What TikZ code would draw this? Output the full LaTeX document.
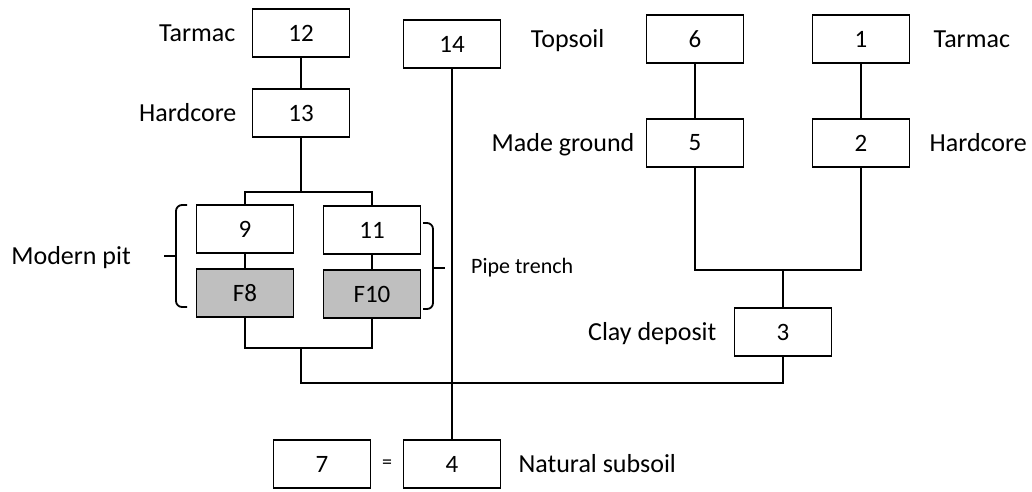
\documentclass[tikz,border=0pt]{standalone}
\usepackage{fontspec}
\setmainfont{Carlito}
\usetikzlibrary{positioning, calc}
\tikzset{
  context box/.style={
    draw=black,
    line width=1.8pt,
    minimum width=97pt,
    minimum height=48pt,
    inner sep=0pt,
    font=\fontsize{25}{29}\selectfont
  },
  cut box/.style={
    context box,
    fill=black!25
  },
  layer label/.style={
    inner sep=0pt,
    text height=17pt,
    text depth=0pt,
    font=\fontsize{26}{30}\selectfont
  },
  link/.style={
    line width=1.8pt,
    draw=black
  },
  group brace/.style={
    line width=1.8pt,
    rounded corners=6pt
  }
}

\begin{document}
\begin{tikzpicture}[x=1pt, y=-1pt]
    % 画布范围 (像素坐标, y 向下)
    \useasboundingbox (0,0) rectangle (1032,491);

    % 左侧路面序列
    \node[context box] (c12) at (301,33) {12};
    \node[context box] (c13) at (301,113) {13};
    \node[layer label, left=16pt of c12] (l12) {Tarmac};
    \node[layer label, left=15pt of c13] (l13) {Hardcore};

    % 现代坑与管沟
    \node[context box] (c9) at (245,229) {9};
    \node[context box] (c11) at (372,230) {11};
    \node[cut box] (f8) at (245,293) {F8};
    \node[cut box] (f10) at (372,294) {F10};

    % 中间
    \node[context box] (c14) at (452,44) {14};
    \node[context box] (c7) at (322,464) {7};
    \node[context box] (c4) at (452,464) {4};
    \node[font=\fontsize{20}{24}\selectfont] (eq) at ($(c7.east)!0.5!(c4.west)$) {=};
    \node[layer label, right=17pt of c4] (l4) {Natural subsoil};

    % 右侧序列
    \node[context box] (c6) at (695,39) {6};
    \node[context box] (c1) at (861,39) {1};
    \node[context box] (c5) at (695,143) {5};
    \node[context box] (c2) at (861,143) {2};
    \node[context box] (c3) at (783,332) {3};
    \node[layer label, left=41pt of c6] (l6) {Topsoil};
    \node[layer label, right=23pt of c1] (l1) {Tarmac};
    \node[layer label, left=11pt of c5] (l5) {Made ground};
    \node[layer label, right=19pt of c2] (l2) {Hardcore};
    \node[layer label, left=17pt of c3] (l3) {Clay deposit};

    % 连接点
    \coordinate (split) at (301,192);
    \coordinate (join) at (301,348);
    \coordinate (low) at (301,383);
    \coordinate (rjoin) at (783,270);

    % 连线
    \draw[link] (c12) -- (c13);
    \draw[link] (c13) -- (split);
    \draw[link] (c9.north) |- (split) -| (c11.north);
    \draw[link] (c9) -- (f8);
    \draw[link] (c11) -- (f10);
    \draw[link] (f8.south) |- (join) -| (f10.south);
    \draw[link] (join) -- (low) -| (c3.south);
    \draw[link] (c14) -- (c4);
    \draw[link] (c6) -- (c5);
    \draw[link] (c1) -- (c2);
    \draw[link] (c5.south) |- (rjoin) -| (c2.south);
    \draw[link] (rjoin) -- (c3.north);

    % 花括号
    \coordinate (pittip) at (164,256);
    \draw[group brace] (187,205) -- (176,205) -- (176,307) -- (187,307);
    \draw[link] (176,256) -- (pittip);
    \node[layer label, left=33pt of pittip] (lpit) {Modern pit};
    \coordinate (pipetip) at (445,268);
    \draw[group brace] (423,223) -- (433,223) -- (433,309) -- (423,309);
    \draw[link] (433,268) -- (pipetip);
    \node[layer label, anchor=west, font=\fontsize{22}{26}\selectfont, text height=15pt] (lpipe) at (471,266) {Pipe trench};

  \end{tikzpicture}
\end{document}
